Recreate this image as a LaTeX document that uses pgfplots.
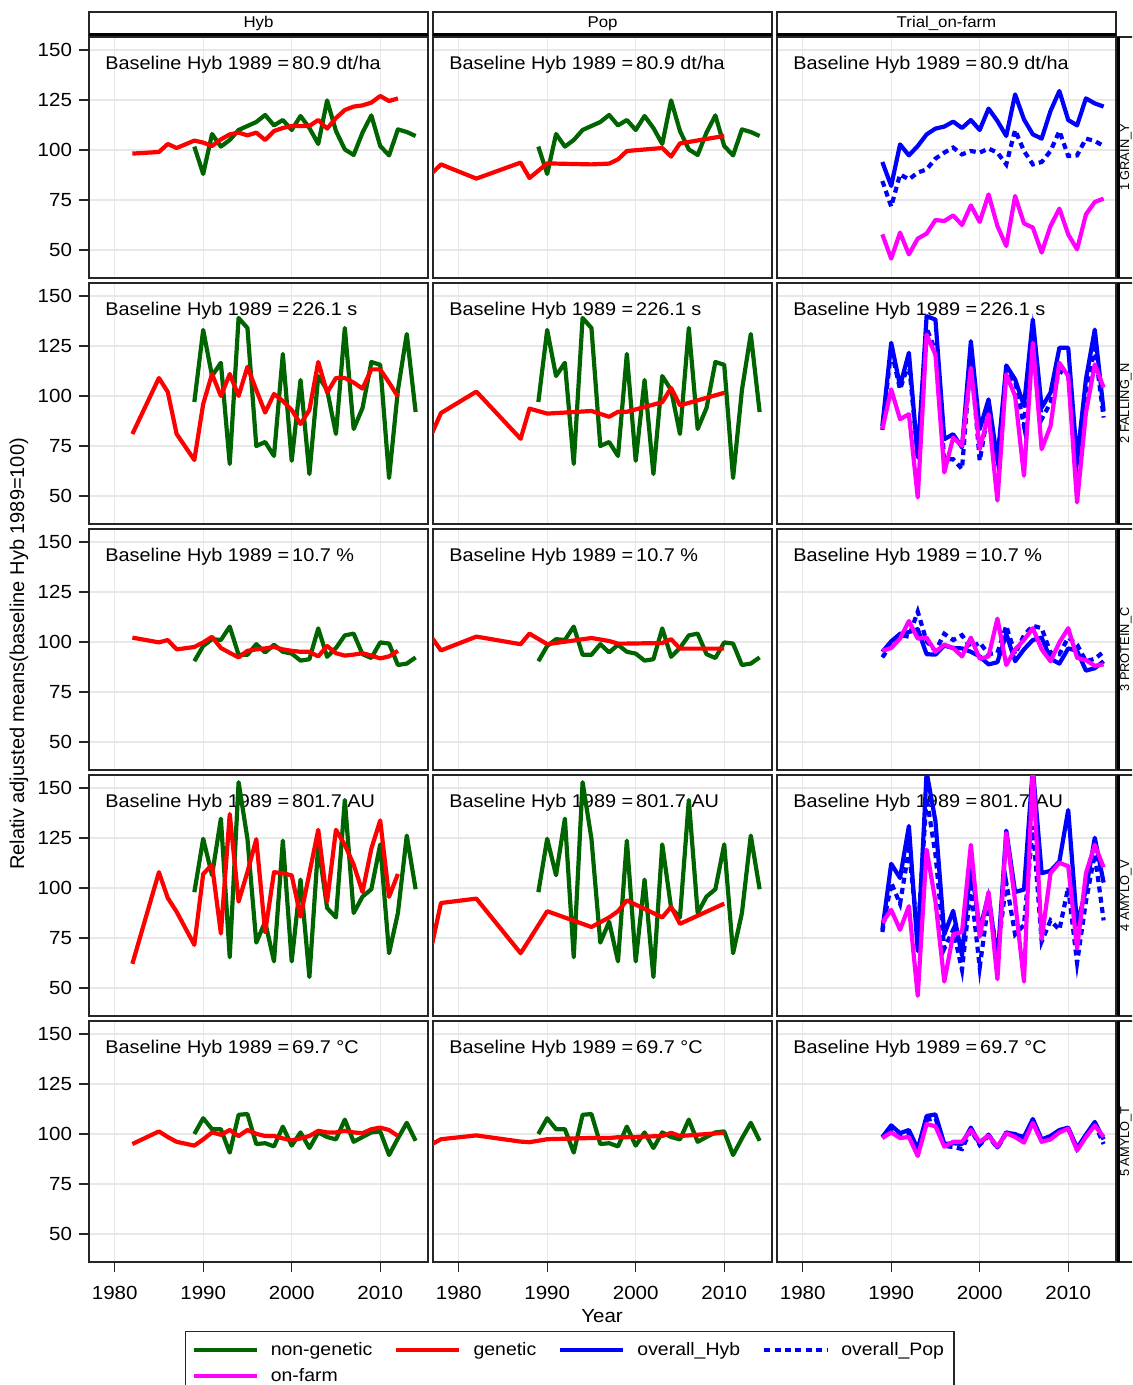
\documentclass[border=0pt]{standalone}
\usepackage{fontspec}
\setmainfont{Liberation Sans}[FakeStretch=1.08]
\newfontfamily\plainsans{Liberation Sans}
\usepackage{pgfplots}
\usepackage{pgfplotstable}
\pgfplotsset{compat=1.18}

\definecolor{dkgreen}{RGB}{0,100,0}
\definecolor{genred}{RGB}{255,0,0}
\definecolor{ovblue}{RGB}{0,0,255}
\definecolor{farmmag}{RGB}{255,0,255}

% non-genetic (same in Hyb and Pop columns)
\pgfplotstableread{
year r1 r2 r3 r4 r5
1989 101.7 97 90.4 97.9 100
1990 88 133 98 124.6 107.9
1991 108 110 101.4 106.4 102.4
1992 101.7 116.6 101 134.7 102.4
1993 105 66 107.7 65.4 90.7
1994 110 139 93.6 152.9 109.6
1995 112 134 93.6 124.6 110
1996 114 75 98.9 72.7 95
1997 117.5 77 94.8 83.1 95.4
1998 112.3 70 98.6 63.3 93.8
1999 115 121 95.1 123.7 103.7
2000 110 67.6 94.2 63.3 94.2
2001 117 108 90.7 104.2 100.8
2002 111 61 91.4 55.5 93
2003 103 110 106.8 121.8 100.8
2004 124.8 103 92.6 90 98.5
2005 109.5 81 97 85.3 97.3
2006 100.3 134 103.3 144 107.2
2007 97.5 83.5 104.2 87.5 96.1
2008 108.7 94 93.9 95.7 98.5
2009 117.3 117 92 99.4 100.8
2010 102 115.6 99.8 121.8 101.3
2011 97.3 59 99.2 67.4 89.5
2012 110.3 103 88.5 87.5 97.8
2013 109 131 89.2 126.2 105.6
2014 107 92 92.3 99.4 96.6
}\ngtab

% genetic, Hyb
\pgfplotstableread{
year r1 r2 r3 r4 r5
1982 98.2 81 102.2 62.1 95
1985 99 109 99.8 107.9 101.3
1986 103 102 101 95 98.5
1987 101 81 96.3 88.1 96.1
1989 104.7 68 97.5 71.6 94.2
1990 103.7 96 99.8 107 97.3
1991 102 111 102.6 111.7 100.8
1992 105.3 100 97 77.2 99.6
1993 107.8 111 94.6 137 102
1994 108.7 100 92.3 93.2 99
1995 107.3 114.6 95.6 108 102
1996 108.7 103 96.3 124.4 100.1
1997 105 91.7 96.8 77.9 99
1998 109.5 101 97.5 107.9 99
1999 111 97.5 96.3 107.4 97.8
2000 112 93 95.6 106.3 96.8
2001 112 86 95.1 85.7 97.8
2002 112 93 95.1 107.4 99
2003 115 117 92.8 129.1 101.6
2004 110.7 101.7 98 93.2 100.8
2005 116 109 94.4 129.1 100.8
2006 120 109 93.2 121.6 101.6
2007 121.7 106.7 93.7 111.7 100.8
2008 122.3 103.7 94.4 98 100.4
2009 123.7 113.3 93.2 119.7 102.4
2010 127 113.3 91.8 133.8 103.2
2011 124.5 106.7 92.8 95.6 102
2012 125.8 99.7 95.6 107 99
}\hrtab

% genetic, Pop
\pgfplotstableread{
year r1 r2 r3 r4 r5
1977 88.5 81.5 102 72 95
1978 92.8 91.5 95.8 92.5 97.4
1982 85.7 102.2 102.7 94.7 99.3
1987 93.7 78.6 98.9 67.4 96.2
1988 86 93.7 104.2 74.3 95.9
1990 93.3 91.2 98.9 88.4 97.4
1995 92.8 92.5 102 80.5 98
1997 93.2 89.6 100.5 85.3 98
1998 95.3 92.1 99.2 88.4 98.4
1999 99.5 92.1 99.2 93.8 98.4
2003 101 96.9 99.5 85.3 99
2004 96.7 104 101.4 90.6 100.6
2005 103.3 95.3 96.7 82.1 99
2010 107 101.6 96.7 92.2 100.6
}\prtab

% overall_Hyb
\pgfplotstableread{
year r1 r2 r3 r4 r5
1989 94 85 95.1 79.1 98.5
1990 82 126.6 100.3 112.1 104.3
1991 102.8 105 104.1 105 100.4
1992 97.3 121.6 105 131 102
1993 102 69.3 106.4 68.5 92.5
1994 107.8 139.9 93.9 158 109
1995 110.7 138.2 93.7 133.4 109.8
1996 111.7 78.4 98.2 76.8 95
1997 114.2 80.9 97 88.6 95.4
1998 111 74.3 96.8 66.2 95
1999 115 127.4 95.1 112.1 103.2
2000 110 83.4 92.8 79.1 95
2001 120.7 98.3 88.8 96.8 99.7
2002 114.5 67.6 89.9 62.6 93.3
2003 107 115.3 104.1 128.7 100.8
2004 127.8 108.3 90.4 98 99.7
2005 115.3 95 96.3 99.2 98.5
2006 107.8 138.2 101 160 107.5
2007 105.7 94.2 102.2 107.4 97.3
2008 119.5 101.7 91.6 108.6 99
2009 129.5 124.1 89.2 113.3 102
2010 115 124.1 96.8 139 103.2
2011 112.3 67.6 95.6 81.5 93
2012 125.8 108.3 85.7 99.2 99.7
2013 123.3 133.2 86.9 125.1 106
2014 121.7 92.5 90.4 102.7 97.3
}\ohtab

% overall_Pop
\pgfplotstableread{
year r1 r2 r3 r4 r5
1989 84.5 83 92.3 78 98
1990 71.7 123.3 98.7 102.7 103
1991 87.8 103.3 103.4 92.1 99.5
1992 85.3 116.6 102.7 119.2 100.5
1993 88.7 70.1 115.2 76.8 92
1994 90.3 134 100.3 145.2 107
1995 95.7 122.4 95.6 116.9 108
1996 98.7 68.4 104.1 69.7 94
1997 101.2 68.4 101 79.1 93.5
1998 97.8 63.5 103.4 59.1 92.5
1999 99.5 119.9 97 100.4 102
2000 98.7 67.6 99.8 60.3 94.5
2001 100.7 93.4 93.9 93.3 99
2002 98.7 68.4 94.6 67.3 93
2003 92.8 110.8 108.1 102.7 100.5
2004 110 107.5 93.9 76.8 100
2005 99.5 85 103.4 81.5 97.5
2006 92.8 130.7 108.1 131 106
2007 94 88.4 106.9 73.2 96.5
2008 99.5 96.7 94.6 83.8 98.5
2009 109.5 112.5 93.9 79.1 101.5
2010 97 110 102.2 100.4 102.5
2011 97.3 67.6 98.7 62.6 92.5
2012 105.7 103.3 90.4 93.3 99
2013 104.5 124.1 91.6 116.9 105
2014 102 89.2 95.1 83.8 95
}\optab

% on-farm
\pgfplotstableread{
year r1 r2 r3 r4 r5
1989 57.8 83.4 95.6 82.7 98
1990 45.7 103.3 97 89.1 100.8
1991 58.7 88.4 101.7 79.1 98
1992 47.8 90.9 110.5 90.9 98.5
1993 55.7 49.3 101.7 46.1 89
1994 58.2 130.7 102.2 119.2 105
1995 65 120.7 95.1 93.3 103.9
1996 64.5 61.8 98.7 53.2 93.7
1997 67.3 79.2 97 76.8 96.1
1998 62.5 75.1 92.8 78 96.1
1999 72.3 114.1 102.2 121.6 102
2000 64 73.4 91.6 75.6 96.1
2001 77.8 90.9 92.8 98 99.2
2002 62 47.7 111.7 54.4 93.7
2003 52 110.8 88.5 127.5 100.4
2004 77 100 96.3 93.3 98.5
2005 63.3 60.1 101 53.2 95.7
2006 61.2 126.6 106.9 160 105.6
2007 48.7 73.4 96.3 74.4 96.1
2008 62 85 90.4 107.4 97.3
2009 70.7 116.6 99.8 112.6 100.8
2010 57.8 110 106.9 110.9 102.7
2011 50.3 46.8 92.1 69.7 91.8
2012 67.8 91.7 90.9 107.4 98.5
2013 74 115.8 88.1 121.6 104.3
2014 75.7 104.2 88.8 110.3 98.5
}\oftab

\pgfplotsset{
  panel/.style={
    width=169.5pt, height=120.5pt, scale only axis, anchor=north west,
    xmin=1977.1, xmax=2015.4, ymin=36, ymax=156.5,
    xtick={1980,1990,2000,2010}, ytick={50,75,100,125,150},
    xticklabels={}, yticklabels={},
    xmajorgrids, ymajorgrids,
    major grid style={draw=black!9, line width=0.6pt},
    axis line style={draw=black!85, line width=0.8pt},
    tick align=outside, major tick length=5pt,
    xtick style={draw=none}, ytick style={draw=none},
    xtick pos=bottom, ytick pos=left,
    ticklabel style={font=\fontsize{9.5}{11}\selectfont, text=black},
    /pgf/number format/assume math mode=true,
  },
  yleft/.style={yticklabels={50,75,100,125,150},
    ytick style={draw=black!85, line width=0.6pt}},
  xbottom/.style={xticklabels={1980,1990,2000,2010},
    xtick style={draw=black!85, line width=0.6pt},
    xticklabel style={yshift=-3.5pt}},
  ngline/.style={dkgreen, line width=2.1pt, line join=round, no markers},
  genline/.style={genred, line width=2.1pt, line join=round, no markers},
  ohline/.style={ovblue, line width=2.1pt, line join=round, no markers},
  opline/.style={ovblue, line width=2.1pt, dash pattern=on 3pt off 2.2pt, no markers},
  ofline/.style={farmmag, line width=2.1pt, line join=round, no markers},
}

\newcommand{\basetext}[1]{\node[anchor=west, inner sep=0pt, font=\fontsize{9.2}{10}\selectfont]
  at (rel axis cs:0.047,0.884) {Baseline Hyb 1989 =\hspace{1.5pt}#1};}

% Hyb / Pop panel: x, y, row column, genetic table, extra options, text
\newcommand{\hpanel}[6]{%
\begin{axis}[panel, at={(#1,#2)}, #5]
\basetext{#6}
\addplot[ngline] table[x=year,y=#3]{\ngtab};
\addplot[genline] table[x=year,y=#3]{#4};
\end{axis}}

% Trial_on-farm panel: x, y, row column, extra options, text
\newcommand{\tpanel}[5]{%
\begin{axis}[panel, at={(#1,#2)}, #4]
\basetext{#5}
\addplot[ohline] table[x=year,y=#3]{\ohtab};
\addplot[opline] table[x=year,y=#3]{\optab};
\addplot[ofline] table[x=year,y=#3]{\oftab};
\end{axis}}

\begin{document}
\begin{tikzpicture}
\path[use as bounding box, clip] (0pt,0pt) rectangle (566pt,-692.5pt);

\hpanel{44.5pt}{-18.5pt}{r1}{\hrtab}{yleft}{80.9 dt/ha}
\hpanel{216.5pt}{-18.5pt}{r1}{\prtab}{}{80.9 dt/ha}
\tpanel{388.5pt}{-18.5pt}{r1}{}{80.9 dt/ha}

\hpanel{44.5pt}{-141.5pt}{r2}{\hrtab}{yleft}{226.1 s}
\hpanel{216.5pt}{-141.5pt}{r2}{\prtab}{}{226.1 s}
\tpanel{388.5pt}{-141.5pt}{r2}{}{226.1 s}

\hpanel{44.5pt}{-264.5pt}{r3}{\hrtab}{yleft}{10.7 \%}
\hpanel{216.5pt}{-264.5pt}{r3}{\prtab}{}{10.7 \%}
\tpanel{388.5pt}{-264.5pt}{r3}{}{10.7 \%}

\hpanel{44.5pt}{-387.5pt}{r4}{\hrtab}{yleft}{801.7 AU}
\hpanel{216.5pt}{-387.5pt}{r4}{\prtab}{}{801.7 AU}
\tpanel{388.5pt}{-387.5pt}{r4}{}{801.7 AU}

\hpanel{44.5pt}{-510.5pt}{r5}{\hrtab}{yleft,xbottom}{69.7 °C}
\hpanel{216.5pt}{-510.5pt}{r5}{\prtab}{xbottom}{69.7 °C}
\tpanel{388.5pt}{-510.5pt}{r5}{xbottom}{69.7 °C}

% legend
\begin{axis}[at={(216.5pt,-510.5pt)}, anchor=north west,
  width=169.5pt, height=120.5pt, scale only axis, hide axis,
  xmin=0, xmax=1, ymin=0, ymax=1,
  legend columns=4,
  legend image code/.code={\draw[#1] (0pt,0pt) -- (31.5pt,0pt);},
  legend style={at={(-0.7316,-0.2863)}, anchor=north west,
    draw=black!85, line width=0.6pt, fill=white,
    font=\fontsize{9}{10}\selectfont, inner xsep=3pt, inner ysep=3.2pt,
    row sep=1pt,
    /tikz/every odd column/.append style={column sep=4pt},
    /tikz/every even column/.append style={column sep=9pt}},
  legend cell align=left]
\addlegendimage{ngline}
\addlegendentry{non-genetic}
\addlegendimage{genline}
\addlegendentry{genetic}
\addlegendimage{ohline}
\addlegendentry{overall\_Hyb}
\addlegendimage{opline}
\addlegendentry{overall\_Pop}
\addlegendimage{ofline}
\addlegendentry{on-farm}
\end{axis}

\begin{scope}[x=0.5pt,y=-0.5pt]
\foreach \L/\R/\t in {89/428/Hyb, 433/772/Pop, 777/1116/Trial\_on-farm} {
  \draw[line width=0.6pt, draw=black!85, fill=white] (\L,12) rectangle (\R,35);
  \draw[line width=1.4pt] (\L,34.5) -- (\R,34.5);
  \node[font=\fontsize{7.8}{9}\selectfont, inner sep=0pt] at ({(\L+\R)/2},23.5) {\t};
}
\foreach \T/\B/\t in {37/278/1 GRAIN\_Y, 283/524/2 FALLING\_N, 529/770/3 PROTEIN\_C, 775/1016/4 AMYLO\_V, 1021/1262/5 AMYLO\_T} {
  \draw[line width=0.6pt, draw=black!85, fill=white] (1118,\T) rectangle (1170,\B);
  \draw[line width=1.4pt] (1118.5,\T) -- (1118.5,\B);
  \node[rotate=90, anchor=north, inner sep=0pt, font=\plainsans\fontsize{6.4}{8}\selectfont] at (1119.8,{(\T+\B)/2}) {\t};
}
\node[rotate=90, font=\plainsans\fontsize{10}{12}\selectfont] at (19,654) {Relativ adjusted means(baseline Hyb 1989=100)};
\node[font=\fontsize{9.5}{11}\selectfont] at (602,1316) {Year};
\end{scope}
\end{tikzpicture}
\end{document}
